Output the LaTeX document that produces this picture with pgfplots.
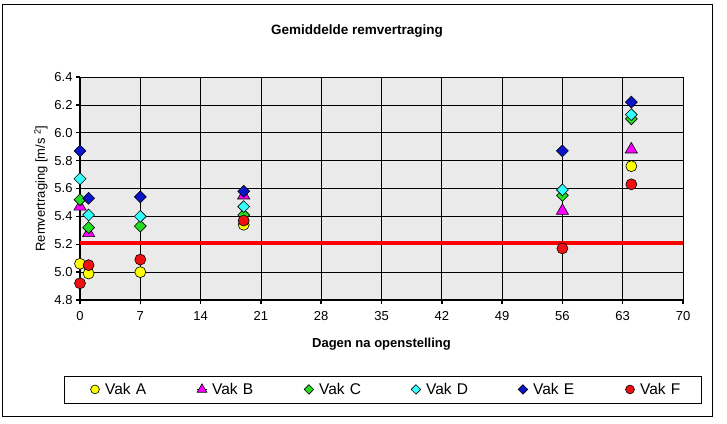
\documentclass[border=0pt]{standalone}
\usepackage{pgfplots}
\pgfplotsset{compat=1.18}
\usepackage{fontspec}
\setmainfont{Liberation Sans}
\definecolor{bgGray}{HTML}{EAEAEA}
\definecolor{cA}{HTML}{FFFF00}
\definecolor{cB}{HTML}{FF00FF}
\definecolor{cC}{HTML}{22DD22}
\definecolor{cD}{HTML}{33FFFF}
\definecolor{cE}{HTML}{0A14C8}
\definecolor{cF}{HTML}{EE1111}
\begin{document}
\begin{tikzpicture}[x=1bp,y=1bp]
\useasboundingbox (0,0) rectangle (727,423);
\draw[black, line width=0.8bp] (2,7) rectangle (712,419);
\node[font=\fontsize{13.5bp}{15bp}\selectfont\bfseries] at (357,392) {Gemiddelde remvertraging};
\begin{axis}[
  at={(80bp,123bp)}, anchor=south west,
  scale only axis, width=603bp, height=223bp,
  xmin=0, xmax=70, ymin=4.8, ymax=6.4,
  xtick={0,7,...,70}, ytick={4.8,5.0,5.2,5.4,5.6,5.8,6.0,6.2,6.4},
  yticklabel style={/pgf/number format/.cd, fixed, fixed zerofill, precision=1},
  /pgf/number format/assume math mode=true,
  ticklabel style={font=\fontsize{13bp}{15bp}\selectfont},
  xticklabel style={yshift=-4bp},
  grid=major, major grid style={black, line width=0.7bp},
  axis background/.style={fill=bgGray, draw=gray!70},
  axis x line*=bottom, axis y line*=left,
  axis line style={-, line width=2.5bp, black},
  tick align=outside, major tick length=4bp,
  tick style={black, line width=1.5bp},
  xlabel={Dagen na openstelling},
  ylabel={Remvertraging [m/s \textsuperscript{2}]},
  xlabel style={font=\fontsize{13bp}{15bp}\selectfont\bfseries, yshift=-11bp},
  ylabel style={font=\fontsize{13bp}{15bp}\selectfont, yshift=0bp},
  clip=false,
  legend columns=6,
  legend style={draw=none, fill=none, inner sep=0pt, at={(0.0159,-0.401)}, anchor=west,
    nodes={inner ysep=0pt, inner xsep=5bp, text width=86.6bp, font=\fontsize{15.5bp}{17bp}\selectfont},
    /tikz/every odd column/.append style={column sep=0pt},
    /tikz/every even column/.append style={column sep=0pt}},
  legend cell align=left,
  legend image code/.code={\path (-5bp,0)--(5bp,0);\draw[#1, /tikz/every mark/.append style={scale=0.8}] plot coordinates {(0bp,0bp)};},
]
\addplot[forget plot, color=red, line width=3.5bp] coordinates {(0,5.21) (70,5.21)};
\addplot[only marks, mark=*, mark size=5.5bp, mark options={draw=black, fill=cA, line width=0.6bp}]
  coordinates {(0,5.06) (1,4.99) (7,5.00) (19,5.34) (64,5.76)};
\addlegendentry{Vak A}
\addplot[only marks, mark=triangle*, mark size=7bp, mark options={draw=black, fill=cB, line width=0.6bp}]
  coordinates {(0,5.47) (1,5.28) (19,5.55) (56,5.44) (64,5.88)};
\addlegendentry{Vak B}
\addplot[only marks, mark=square*, mark size=4.2bp, mark options={rotate=45, draw=black, fill=cC, line width=0.6bp}]
  coordinates {(0,5.52) (1,5.32) (7,5.33) (19,5.41) (56,5.55) (64,6.10)};
\addlegendentry{Vak C}
\addplot[only marks, mark=square*, mark size=4.2bp, mark options={rotate=45, draw=black, fill=cD, line width=0.6bp}]
  coordinates {(0,5.67) (1,5.41) (7,5.40) (19,5.47) (56,5.59) (64,6.13)};
\addlegendentry{Vak D}
\addplot[only marks, mark=square*, mark size=4.2bp, mark options={rotate=45, draw=black, fill=cE, line width=0.6bp}]
  coordinates {(0,5.87) (1,5.53) (7,5.54) (19,5.58) (56,5.87) (64,6.22)};
\addlegendentry{Vak E}
\addplot[only marks, mark=*, mark size=5.5bp, mark options={draw=black, fill=cF, line width=0.6bp}]
  coordinates {(0,4.92) (1,5.05) (7,5.09) (19,5.37) (56,5.17) (64,5.63)};
\addlegendentry{Vak F}
\end{axis}
\draw[black, line width=0.8bp] (64,20) rectangle (701,47);
\end{tikzpicture}
\end{document}
